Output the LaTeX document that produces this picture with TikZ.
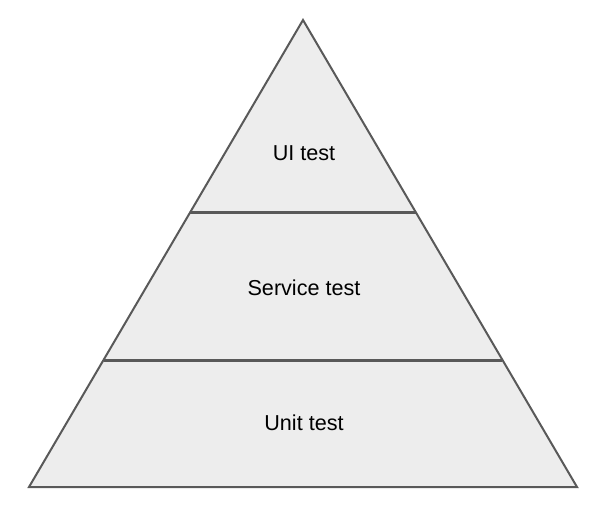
\documentclass[tikz,border=0pt]{standalone}
\usepackage{fontspec}
\setmainfont{Liberation Sans}
\usetikzlibrary{calc}
\definecolor{fillgrey}{HTML}{EDEDED}
\definecolor{linegrey}{HTML}{595959}
\tikzset{
  edge/.style={draw=linegrey, line width=2pt, line join=miter},
  divider/.style={draw=linegrey, line width=3pt},
  label/.style={font=\fontsize{21.6}{25}\selectfont, text=black, inner sep=0pt}
}
\begin{document}
\begin{tikzpicture}[x=1pt,y=-1pt]
\useasboundingbox (0,0) rectangle (594,506);
\coordinate (apex) at (303,20);
\coordinate (bl) at (29,487);
\coordinate (br) at (577,487);
\coordinate (d1l) at ($(apex)!{192/467}!(bl)$);
\coordinate (d1r) at ($(apex)!{192/467}!(br)$);
\coordinate (d2l) at ($(apex)!{340/467}!(bl)$);
\coordinate (d2r) at ($(apex)!{340/467}!(br)$);
\fill[fillgrey] (apex) -- (br) -- (bl) -- cycle;
\draw[divider] (d1l) -- (d1r);
\draw[divider] (d2l) -- (d2r);
\draw[edge] (apex) -- (br) -- (bl) -- cycle;
\node[label] (ui) at (304,153) {UI test};
\node[label] (service) at (304,288) {Service test};
\node[label] (unit) at (304,423) {Unit test};
\end{tikzpicture}
\end{document}
